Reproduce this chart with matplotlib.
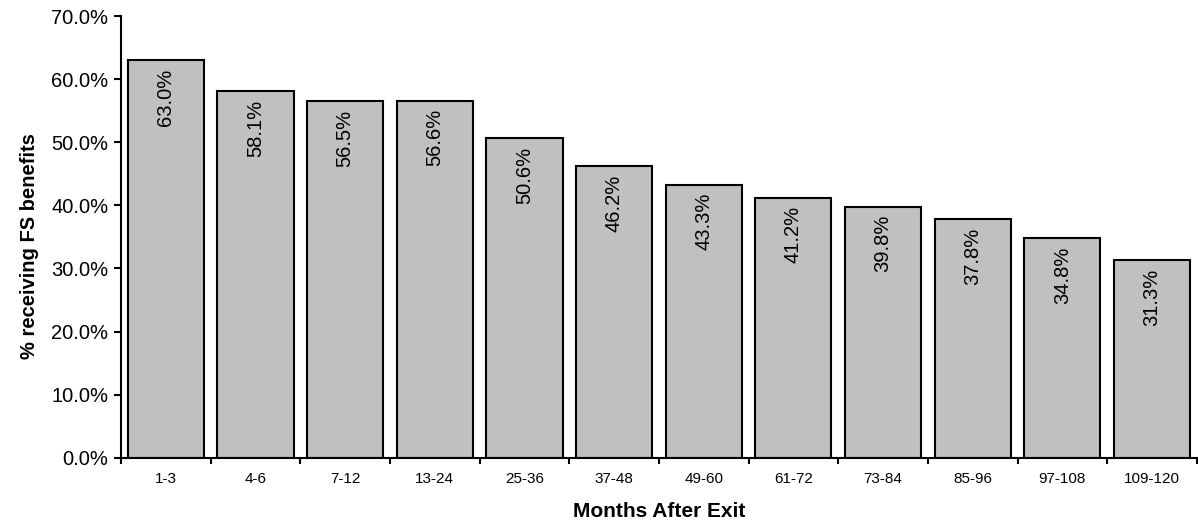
import matplotlib.pyplot as plt
import numpy as np
from matplotlib.ticker import FixedLocator, MultipleLocator, PercentFormatter

plt.rcParams["font.family"] = ["Liberation Sans", "DejaVu Sans"]

# Share of exiters receiving FS benefits by months after exit
periods = ["1-3", "4-6", "7-12", "13-24", "25-36", "37-48",
           "49-60", "61-72", "73-84", "85-96", "97-108", "109-120"]
pct_receiving = [63.0, 58.1, 56.5, 56.6, 50.6, 46.2,
                 43.3, 41.2, 39.8, 37.8, 34.8, 31.3]

fig = plt.figure(figsize=(11.98, 5.25), dpi=100)
ax = fig.add_axes([0.101, 0.128, 0.898, 0.8415])

x = np.arange(len(periods))
bars = ax.bar(x, pct_receiving, width=0.85, color="#C0C0C0",
              edgecolor="black", linewidth=1.5, zorder=2)

for xi, val in zip(x, pct_receiving):
    ax.annotate(f"{val:.1f}%", (xi, val), xytext=(0, -6),
                textcoords="offset points", rotation=90,
                ha="center", va="top", fontsize=14.5)

ax.set_xlim(-0.5, len(periods) - 0.5)
ax.set_ylim(0, 70)
ax.yaxis.set_major_locator(MultipleLocator(10))
ax.yaxis.set_major_formatter(PercentFormatter(decimals=1))

# labels at bar centres, tick marks between categories
ax.set_xticks(x)
ax.set_xticklabels(periods, fontsize=11)
ax.tick_params(axis="x", which="major", length=0, pad=10)
ax.xaxis.set_minor_locator(FixedLocator(np.arange(-0.5, len(periods), 1.0)))
ax.tick_params(axis="x", which="minor", length=4, width=1.5, direction="out")
ax.tick_params(axis="y", labelsize=14.5, length=5, width=1.5, direction="out", pad=4)

for side in ("top", "right"):
    ax.spines[side].set_visible(False)
for side in ("left", "bottom"):
    ax.spines[side].set_linewidth(1.5)

ax.set_xlabel("Months After Exit", fontsize=15, fontweight="bold")
ax.xaxis.set_label_coords(0.5, -0.10)
ax.set_ylabel("% receiving FS benefits", fontsize=14.5, fontweight="bold")
ax.yaxis.set_label_coords(-0.076, 0.48)

fig.savefig("out.png", dpi=100)
